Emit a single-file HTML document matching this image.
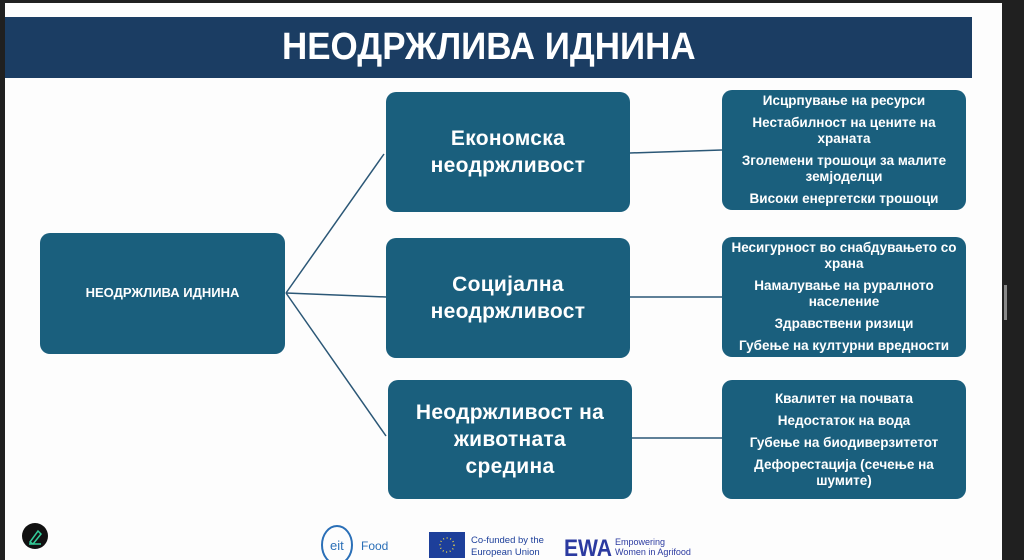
<!DOCTYPE html>
<html><head><meta charset="utf-8"><style>
body{margin:0;width:1024px;height:560px;background:#202020;position:relative;overflow:hidden;font-family:"Liberation Sans","DejaVu Sans",sans-serif}
.page{position:absolute;left:5px;top:3px;width:997px;height:557px;background:#fdfdfd}
.hdr{position:absolute;left:5px;top:17px;width:967px;height:61px;background:#1b3d63;color:#fff;text-align:center;font:bold 38px/61px "Liberation Sans",sans-serif}
.hdr span{display:inline-block;transform:scaleX(0.92)}
.b{position:absolute;background:#1a5f7d;border-radius:10px;color:#fff;display:flex;flex-direction:column;align-items:center;justify-content:center;text-align:center;font-weight:bold}
.m{font-size:21px;line-height:27px;letter-spacing:0.3px}
.r{font-size:13.5px;line-height:16px}
.r div{margin:3px 4px}
</style></head><body>
<div class="page"></div>
<div class="hdr"><span>НЕОДРЖЛИВА ИДНИНА</span></div>
<svg style="position:absolute;left:0;top:0" width="1024" height="560">
<g stroke="#2b5776" stroke-width="1.5" fill="none">
<line x1="286" y1="293" x2="384" y2="154"/>
<line x1="286" y1="293" x2="386" y2="297"/>
<line x1="286" y1="293" x2="386" y2="436"/>
<line x1="630" y1="153" x2="722" y2="150"/>
<line x1="630" y1="297" x2="722" y2="297"/>
<line x1="632" y1="438" x2="722" y2="438"/>
</g>
<rect x="1004" y="285" width="3" height="35" fill="#888"/>
<circle cx="35" cy="536" r="13" fill="#111"/>
<path d="M30 542 L38 531 L41 534 L33 544 Z M29 544 H41" stroke="#3c9" stroke-width="1.5" fill="none"/>
<ellipse cx="337" cy="545" rx="15" ry="19" fill="none" stroke="#2a6fb7" stroke-width="2"/>
<text x="330" y="550" font-size="13" fill="#2a6fb7" font-family="Liberation Sans">eit</text>
<text x="361" y="550" font-size="12" fill="#2a6fb7" font-family="Liberation Sans">Food</text>
<rect x="429" y="532" width="36" height="26" fill="#1d3f9a"/>
<circle cx="447" cy="545" r="7" fill="none" stroke="#e8d34a" stroke-width="1.5" stroke-dasharray="1 2.6"/>
<text x="471" y="543" font-size="9.5" fill="#1d3f9a" font-family="Liberation Sans">Co-funded by the</text>
<text x="471" y="555" font-size="9.5" fill="#1d3f9a" font-family="Liberation Sans">European Union</text>
<text x="564" y="556" font-size="24" font-weight="bold" fill="#2b3aa0" font-family="Liberation Sans" textLength="48" lengthAdjust="spacingAndGlyphs">EWA</text>
<text x="615" y="545" font-size="9" fill="#2b3aa0" font-family="Liberation Sans">Empowering</text>
<text x="615" y="555" font-size="9" fill="#2b3aa0" font-family="Liberation Sans">Women in Agrifood</text>
</svg>
<div class="b" style="left:40px;top:233px;width:245px;height:121px;font-size:13px"><span style="margin-top:-3px">НЕОДРЖЛИВА ИДНИНА</span></div>
<div class="b m" style="left:386px;top:92px;width:244px;height:120px">Економска<br>неодржливост</div>
<div class="b m" style="left:386px;top:238px;width:244px;height:120px">Социјална<br>неодржливост</div>
<div class="b m" style="left:388px;top:380px;width:244px;height:119px">Неодржливост на<br>животната<br>средина</div>
<div class="b r" style="left:722px;top:90px;width:244px;height:120px">
<div>Исцрпување на ресурси</div><div>Нестабилност на цените на<br>храната</div><div>Зголемени трошоци за малите<br>земјоделци</div><div>Високи енергетски трошоци</div></div>
<div class="b r" style="left:722px;top:237px;width:244px;height:120px">
<div>Несигурност во снабдувањето со<br>храна</div><div>Намалување на руралното<br>население</div><div>Здравствени ризици</div><div>Губење на културни вредности</div></div>
<div class="b r" style="left:722px;top:380px;width:244px;height:119px">
<div>Квалитет на почвата</div><div>Недостаток на вода</div><div>Губење на биодиверзитетот</div><div>Дефорестација (сечење на<br>шумите)</div></div>
</body></html>
